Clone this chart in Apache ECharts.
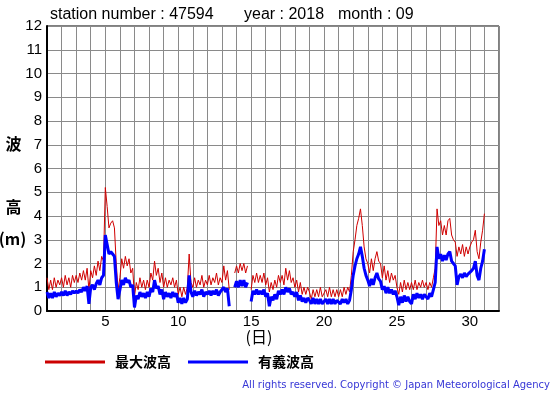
<!DOCTYPE html>
<html>
<head>
<meta charset="utf-8">
<script src="https://cdn.jsdelivr.net/npm/echarts@6.0.0/dist/echarts.min.js"></script>
<style>
html,body{margin:0;padding:0;background:#fff;}
#chart{width:555px;height:395px;}
</style>
</head>
<body>
<div id="chart"></div>
<script>
// Day axis and tick labels
const dayStart = 1;
const dayEnd = 32;
const dayTickLabels = [5, 10, 15, 20, 25, 30];
const heightTicks = [0,1,2,3,4,5,6,7,8,9,10,11,12];
const samplesPerDay = 8; // 3-hourly readings

// 最大波高 (max wave height, m), 3-hourly from day 1 00h to day 31 00h
const maxWave = [
  1.4,0.9,1.3,0.9,1.4,1.0,1.3,1.1,
  1.4,1.0,1.5,1.1,1.4,1.0,1.5,1.2,
  1.5,1.2,1.6,1.3,1.7,1.3,1.8,0.9,
  1.7,1.4,1.9,1.5,2.1,1.7,2.3,2.1,
  5.2,4.4,3.5,3.7,3.8,3.5,2.0,0.9,
  1.4,2.2,1.8,2.3,1.9,2.2,1.6,1.8,
  0.6,1.2,0.9,1.4,1.0,1.3,0.9,1.3,
  1.0,1.6,1.3,2.1,1.5,1.8,1.2,1.6,
  1.0,1.4,1.0,1.3,1.1,1.4,1.0,1.3,
  0.7,1.0,0.6,1.0,0.7,1.0,2.4,1.2,
  1.0,1.4,1.0,1.3,1.1,1.5,1.0,1.3,
  1.1,1.5,1.1,1.4,1.2,1.6,1.1,1.4,
  1.2,1.9,1.3,1.7,0.9,null,null,1.6,
  1.9,1.6,2.0,1.7,2.0,1.6,1.9,null,
  0.9,1.5,1.2,1.6,1.2,1.5,1.2,1.6,
  1.1,1.4,0.8,1.2,0.9,1.3,1.0,1.5,
  1.2,1.5,1.1,1.8,1.3,1.7,1.2,1.4,
  1.0,1.3,0.8,1.2,0.7,1.0,0.7,1.0,
  0.8,0.5,0.9,0.6,0.9,0.6,1.0,0.6,
  0.6,0.9,0.6,1.0,0.6,0.9,0.6,0.9,
  0.6,0.9,0.6,1.0,0.7,1.0,0.8,1.5,
  2.5,3.0,3.6,3.9,4.3,3.6,2.7,2.2,
  2.0,1.6,2.2,1.7,2.2,2.5,2.1,2.0,
  1.4,1.9,1.3,1.7,1.2,1.6,1.3,1.5,
  1.0,0.7,1.2,0.8,1.3,0.9,1.2,0.9,
  1.2,0.9,1.3,0.9,1.2,1.0,1.3,1.0,
  1.2,0.9,1.2,1.0,1.4,1.8,4.3,3.6,
  3.8,3.2,3.6,3.2,3.8,3.9,3.2,3.0,
  2.9,2.3,2.7,2.4,2.8,2.3,2.7,2.4,
  2.7,2.9,3.0,3.4,2.5,2.2,2.9,3.4,
  4.1
];

// 有義波高 (significant wave height, m)
const sigWave = [
  0.8,0.55,0.75,0.55,0.8,0.6,0.75,0.65,
  0.8,0.65,0.85,0.65,0.8,0.7,0.85,0.75,
  0.85,0.75,0.9,0.8,1.0,0.85,1.05,0.3,
  1.0,1.1,0.9,1.15,1.3,1.1,1.4,1.5,
  3.2,2.8,2.4,2.5,2.4,2.3,1.2,0.5,
  0.9,1.3,1.1,1.4,1.2,1.3,1.0,1.1,
  0.15,0.65,0.5,0.8,0.6,0.75,0.55,0.8,
  0.6,0.95,0.8,1.3,0.95,1.05,0.7,0.9,
  0.5,0.8,0.6,0.75,0.55,0.8,0.6,0.75,
  0.35,0.55,0.3,0.55,0.35,0.5,1.5,0.8,
  0.6,0.85,0.65,0.8,0.7,0.9,0.6,0.8,
  0.7,0.85,0.65,0.85,0.7,0.9,0.65,0.8,
  0.75,1.0,0.8,0.95,0.2,null,null,1.0,
  1.25,1.0,1.3,1.05,1.3,1.0,1.2,null,
  0.4,0.85,0.7,0.9,0.7,0.85,0.7,0.9,
  0.6,0.75,0.2,0.6,0.45,0.7,0.5,0.85,
  0.7,0.9,0.7,1.0,0.8,0.95,0.7,0.8,
  0.6,0.8,0.45,0.65,0.4,0.55,0.35,0.55,
  0.45,0.3,0.55,0.3,0.5,0.3,0.5,0.3,
  0.3,0.5,0.3,0.5,0.3,0.5,0.3,0.45,
  0.5,0.3,0.5,0.35,0.5,0.3,0.45,0.9,
  1.5,1.9,2.2,2.4,2.7,2.3,1.8,1.5,
  1.3,1.05,1.35,1.1,1.4,1.6,1.35,1.25,
  0.9,1.05,0.75,1.0,0.75,0.9,0.7,0.85,
  0.6,0.25,0.6,0.35,0.65,0.4,0.6,0.4,
  0.3,0.7,0.5,0.75,0.55,0.7,0.5,0.7,
  0.65,0.5,0.75,0.6,0.9,1.2,2.7,2.2,
  2.4,2.1,2.35,2.15,2.4,2.5,2.1,2.0,
  1.9,1.1,1.45,1.55,1.4,1.6,1.45,1.55,
  1.6,1.7,1.8,2.1,1.5,1.3,1.8,2.1,
  2.6
];

const seriesNames = ['最大波高', '有義波高'];
const titleParts = ['station number : 47594', 'year : 2018', 'month : 09'];
const yAxisNameParts = ['波', '高', '(m)'];
const xAxisName = '(日)';
const copyright = 'All rights reserved. Copyright © Japan Meteorological Agency';

function toPairs(arr) {
  return arr.map((v, i) => [dayStart + i / samplesPerDay, v]);
}

const chart = echarts.init(document.getElementById('chart'), null, {renderer: 'canvas'});
const LAT = '"Liberation Sans", Arial, sans-serif';
const CJK = '"Noto Sans CJK JP", sans-serif';

chart.setOption({
  animation: false,
  backgroundColor: '#fff',
  grid: {
    left: 47, right: 56, top: 26, bottom: 84,
    show: true, borderColor: '#000', borderWidth: 1, backgroundColor: 'transparent'
  },
  legend: {
    data: seriesNames,
    left: 45, top: 355, padding: 0,
    icon: 'rect', itemWidth: 60, itemHeight: 3, itemGap: 17,
    textStyle: {fontSize: 14, fontWeight: 'bold', fontFamily: CJK, color: '#000', padding: [0,0,0,5]}
  },
  xAxis: {
    type: 'value', min: dayStart, max: dayEnd, interval: 1,
    axisLine: {show: true, onZero: false, lineStyle: {color: '#000', width: 2}},
    axisTick: {show: false},
    axisLabel: {
      margin: 3, fontSize: 15, fontFamily: LAT, color: '#000',
      formatter: v => dayTickLabels.indexOf(v) >= 0 ? String(v) : ''
    },
    splitLine: {show: true, lineStyle: {color: '#8a8a8a', width: 1}}
  },
  yAxis: {
    type: 'value', min: heightTicks[0], max: heightTicks[heightTicks.length - 1], interval: 1,
    axisLine: {show: true, lineStyle: {color: '#000', width: 2}},
    axisTick: {show: false},
    axisLabel: {margin: 5, fontSize: 15, fontFamily: LAT, color: '#000'},
    splitLine: {show: true, lineStyle: {color: '#8a8a8a', width: 1}}
  },
  series: [
    {
      name: seriesNames[0], type: 'line', data: toPairs(maxWave),
      showSymbol: false, connectNulls: false,
      lineStyle: {color: '#d00000', width: 1},
      itemStyle: {color: '#cc0000'}
    },
    {
      name: seriesNames[1], type: 'line', data: toPairs(sigWave),
      showSymbol: false, connectNulls: false,
      lineStyle: {color: '#0000ff', width: 3},
      itemStyle: {color: '#0000ff'}
    }
  ],
  graphic: [
    {type: 'text', x: 50, y: 15, style: {text: titleParts[0], font: '16px ' + LAT, fill: '#000', align: 'left', verticalAlign: 'middle'}},
    {type: 'text', x: 244, y: 15, style: {text: titleParts[1], font: '16px ' + LAT, fill: '#000', align: 'left', verticalAlign: 'middle'}},
    {type: 'text', x: 338, y: 15, style: {text: titleParts[2], font: '16px ' + LAT, fill: '#000', align: 'left', verticalAlign: 'middle'}},
    {type: 'text', x: 13.5, y: 144, style: {text: yAxisNameParts[0], font: 'bold 16px ' + CJK, fill: '#000', align: 'center', verticalAlign: 'middle'}},
    {type: 'text', x: 13.5, y: 207, style: {text: yAxisNameParts[1], font: 'bold 16px ' + CJK, fill: '#000', align: 'center', verticalAlign: 'middle'}},
    {type: 'text', x: 12.5, y: 239, style: {text: yAxisNameParts[2], font: 'bold 16px ' + CJK, fill: '#000', align: 'center', verticalAlign: 'middle'}},
    {type: 'text', x: 259, y: 337, style: {text: xAxisName, font: '16px ' + CJK, fill: '#000', align: 'center', verticalAlign: 'middle'}},
    {type: 'text', x: 550, y: 385, style: {text: copyright, font: '10px "DejaVu Sans", sans-serif', fill: '#3636d6', align: 'right', verticalAlign: 'middle'}}
  ]
});
</script>
</body>
</html>
